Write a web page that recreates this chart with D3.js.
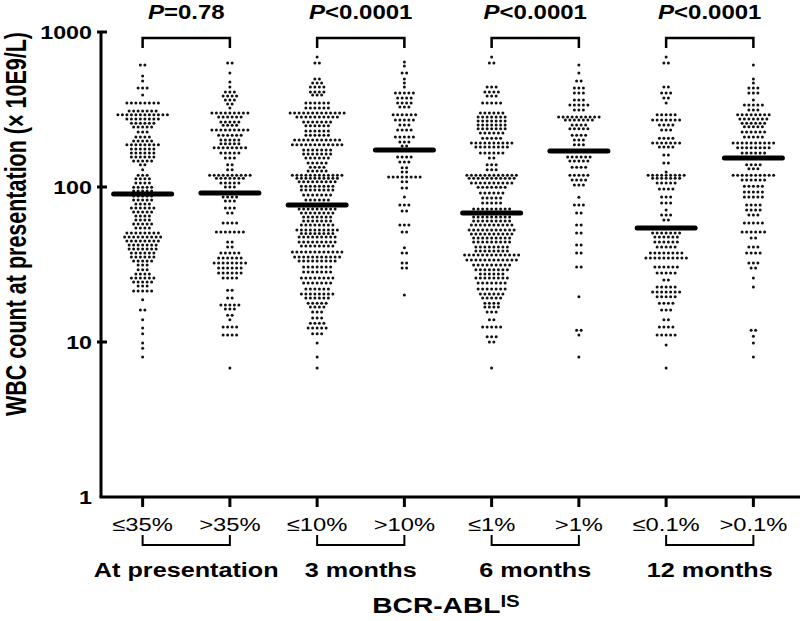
<!DOCTYPE html>
<html>
<head>
<meta charset="utf-8">
<script src="https://cdn.jsdelivr.net/npm/d3@7"></script>
<style>
  html, body { margin: 0; padding: 0; background: #fff; }
  svg { display: block; }
  text { font-family: "Liberation Sans", Arial, sans-serif; fill: #000; }
</style>
</head>
<body>
<div id="chart"></div>
<script>
// ---------------- DATA ----------------
const categories = ["≤35%", ">35%", "≤10%", ">10%", "≤1%", ">1%", "≤0.1%", ">0.1%"];
const timepoints = ["At presentation", "3 months", "6 months", "12 months"];
const pSign = ["=0.78", "<0.0001", "<0.0001", "<0.0001"];
const medians = [90, 91.5, 76.5, 173, 68, 171, 54.4, 154];
const yTickValues = [1, 10, 100, 1000];

// each entry: [WBC value (x10E9/L), number of patients in that row of the scatter]
const g1Rows = [[612,2],[520,1],[483,1],[435,3],[392,1],[348,8],[309,7],[292,12],[275,8],[258,6],[244,5],[226,3],[210,4],[198,5],[187,8],[176,6],[166,6],[156,6],[147,5],[139,2],[129,1],[119,3],[113,4],[106,4],[99.7,5],[94.3,5],[87.5,5],[82.4,5],[77.6,4],[73.1,6],[68.9,5],[65,4],[61.2,4],[57.7,5],[54.3,4],[50.5,8],[47.6,9],[44.8,8],[42.3,7],[39.8,7],[37.5,6],[35.3,6],[33.3,5],[31.4,3],[29.2,3],[27.5,4],[25.9,6],[24.4,5],[23.0,3],[21.3,5],[18.7,1],[16.1,2],[13.9,1],[12.3,1],[11.3,1],[9.85,1],[9.1,1],[8.0,1]];
const g2Rows = [[631,2],[544,1],[476,1],[442,1],[410,3],[387,4],[364,3],[343,2],[323,1],[300,9],[283,6],[263,5],[250,4],[233,9],[216,6],[201,5],[190,5],[179,8],[166,5],[154,3],[139,2],[129,2],[119,10],[114,7],[106,5],[100,3],[91.5,3],[86.2,4],[81.1,3],[73.2,3],[67.9,2],[58.6,4],[51.3,7],[44.2,2],[41.0,2],[37.5,5],[34.8,6],[32.3,8],[30.0,6],[27.9,6],[25.9,4],[21.6,2],[19.2,2],[17.3,5],[16.3,3],[14.9,2],[13.9,1],[12.5,4],[11.1,4],[6.8,1]];
const g3Rows = [[690,1],[631,2],[497,2],[469,3],[442,4],[410,4],[392,3],[348,6],[323,6],[300,13],[283,10],[263,7],[248,6],[230,6],[216,6],[201,11],[187,12],[173,7],[163,7],[154,6],[143,5],[134,4],[127,5],[119,12],[114,10],[108,9],[101,8],[95.7,8],[88.8,7],[82.4,6],[77,8],[72.1,9],[67.9,8],[64,7],[60.4,7],[56.9,8],[52.8,10],[50.2,8],[47.6,9],[44.2,9],[41.6,8],[38.1,12],[35.3,11],[33.3,9],[30.5,7],[28.3,7],[25.9,8],[24.0,7],[22.0,6],[20.4,8],[19.2,6],[17.8,5],[16.8,4],[15.6,3],[14.3,3],[13.2,4],[12.3,5],[11.3,3],[9.85,1],[8.0,1],[6.8,1]];
const g4Rows = [[640,1],[604,1],[544,2],[497,1],[469,1],[442,1],[404,5],[375,4],[348,4],[328,3],[292,6],[271,5],[251,3],[233,4],[210,5],[195,3],[184,2],[156,4],[145,3],[133,2],[125,2],[116,8],[108,2],[98.5,2],[86.2,1],[76.5,3],[70,2],[56.9,3],[51.3,2],[40.5,1],[37.5,2],[32.3,2],[30.0,2],[20.1,1]];
const g5Rows = [[690,1],[631,2],[442,3],[410,4],[387,3],[348,5],[300,6],[283,7],[267,7],[251,7],[238,7],[223,6],[206,5],[192,10],[181,8],[166,6],[154,2],[139,3],[129,3],[119,12],[114,11],[106,10],[99.7,7],[91.5,6],[84.9,5],[78.8,5],[72.1,9],[68,9],[64,9],[60.4,9],[56.9,10],[52.8,11],[49.7,10],[46.9,9],[44.2,9],[41.0,8],[38.6,8],[36.4,13],[33.8,12],[31.4,9],[29.2,8],[27.5,6],[25.9,8],[24.0,7],[22.0,7],[20.4,6],[19.2,5],[17.8,4],[16.8,4],[15.6,3],[13.9,2],[12.5,5],[10.8,3],[10.0,2],[6.8,1]];
const g6Rows = [[612,1],[544,1],[483,2],[435,3],[404,3],[364,3],[338,5],[314,3],[283,10],[271,7],[251,4],[238,5],[216,4],[201,3],[187,3],[171,2],[156,6],[147,5],[134,4],[119,5],[111,4],[103,3],[86,1],[76.5,3],[68,2],[56.9,2],[50.5,2],[42.3,2],[37.5,2],[30.5,2],[19.6,1],[11.9,2],[11.1,1],[8.0,1]];
const g7Rows = [[690,1],[631,2],[442,2],[404,3],[375,2],[348,1],[292,5],[271,7],[251,4],[233,3],[206,4],[192,7],[181,4],[161,2],[143,2],[125,1],[119,9],[114,7],[106,5],[97.2,4],[86.2,3],[78.8,3],[71,1],[65.9,3],[61.2,2],[54.4,6],[50.5,7],[47.6,6],[44.2,6],[41.0,5],[37.5,8],[34.8,10],[30.5,6],[27.9,5],[25.1,2],[22.6,5],[21.0,7],[19.6,5],[17.8,4],[16.1,3],[13.9,2],[12.5,4],[11.1,5],[9.57,1],[6.8,1]];
const g8Rows = [[612,1],[497,1],[469,1],[435,3],[404,3],[364,1],[338,5],[314,3],[292,8],[275,7],[258,6],[245,5],[226,6],[210,5],[192,10],[179,8],[166,6],[154,4],[139,4],[131,3],[119,10],[111,6],[101,5],[92.9,5],[86.2,5],[76.5,4],[71.1,4],[65.9,3],[58.6,5],[51.3,6],[46.9,2],[41.0,3],[37.5,4],[32.3,3],[30.0,2],[25.9,1],[22.6,1],[11.9,2],[10.9,1],[9.85,1],[8.0,1]];

const groupRows = [g1Rows, g2Rows, g3Rows, g4Rows, g5Rows, g6Rows, g7Rows, g8Rows];

// ---------------- LAYOUT ----------------
const W = 800, H = 621;
const axisX = 101, axisY = 497, topY = 32;

const svg = d3.select("#chart").append("svg").attr("width", W).attr("height", H);

const y = d3.scaleLog().domain([1, 1000]).range([axisY, topY]);
const x = d3.scalePoint().domain(categories).range([99, 797]).padding(0.5);

const dotGap = 4.5, dotR = 1.5;

// stretched text helper (the reference typography is horizontally widened)
function stext(px, py, sx, anchor) {
  return svg.append("g")
    .attr("transform", `translate(${px},${py}) scale(${sx},1)`)
    .append("text").attr("text-anchor", anchor);
}

// ---------------- DOTS ----------------
const dots = [];
groupRows.forEach((rows, gi) => {
  const cx = x(categories[gi]);
  rows.forEach(([v, n]) => {
    for (let i = 0; i < n; i++) {
      dots.push({ cx: cx + (i - (n - 1) / 2) * dotGap, v });
    }
  });
});
svg.append("g").selectAll("circle").data(dots).join("circle")
  .attr("cx", d => d.cx).attr("cy", d => y(d.v)).attr("r", dotR).attr("fill", "#111");

// ---------------- MEDIANS ----------------
svg.append("g").selectAll("line").data(medians).join("line")
  .attr("x1", (d, i) => x(categories[i]) - 29)
  .attr("x2", (d, i) => x(categories[i]) + 29)
  .attr("y1", d => y(d)).attr("y2", d => y(d))
  .attr("stroke", "#000").attr("stroke-width", 5).attr("stroke-linecap", "round");

// ---------------- AXES ----------------
const yAxis = d3.axisLeft(y).tickValues(yTickValues).tickSize(0).tickFormat("");
svg.append("g").attr("transform", `translate(${axisX},0)`).call(yAxis)
  .call(g => g.select(".domain").remove());

svg.append("line").attr("x1", axisX).attr("x2", axisX).attr("y1", topY - 1).attr("y2", axisY)
  .attr("stroke", "#000").attr("stroke-width", 3);
svg.append("line").attr("x1", axisX - 1.5).attr("x2", W).attr("y1", axisY).attr("y2", axisY)
  .attr("stroke", "#000").attr("stroke-width", 3);

// y ticks (cross the axis) and labels
svg.append("g").selectAll("line").data(yTickValues.filter(v => v > 1)).join("line")
  .attr("x1", axisX - 4).attr("x2", axisX + 6)
  .attr("y1", d => y(d)).attr("y2", d => y(d))
  .attr("stroke", "#000").attr("stroke-width", 3);
yTickValues.forEach(v => {
  stext(92, y(v) + 6.5, 1.33, "end").attr("font-size", 17.5).attr("font-weight", "bold").text(v);
});

// x ticks and labels
svg.append("g").selectAll("line").data(categories).join("line")
  .attr("x1", d => x(d)).attr("x2", d => x(d))
  .attr("y1", axisY).attr("y2", axisY + 10)
  .attr("stroke", "#000").attr("stroke-width", 3);
categories.forEach(c => {
  stext(x(c), 531, 1.25, "middle").attr("font-size", 19).text(c);
});

// ---------------- BRACKETS ----------------
timepoints.forEach((t, i) => {
  const xa = x(categories[2 * i]), xb = x(categories[2 * i + 1]);
  // bottom bracket
  svg.append("path")
    .attr("d", `M${xa},535 V545 H${xb} V535`)
    .attr("fill", "none").attr("stroke", "#000").attr("stroke-width", 2);
  stext((xa + xb) / 2, 577, 1.2, "middle")
    .attr("font-size", 21).attr("font-weight", "bold").text(t);
  // top bracket with P value
  svg.append("path")
    .attr("d", `M${xa},48 V38 H${xb} V48`)
    .attr("fill", "none").attr("stroke", "#000").attr("stroke-width", 2.5);
  const pt = stext((xa + xb) / 2, 19, 1.2, "middle").attr("font-size", 20).attr("font-weight", "bold");
  pt.append("tspan").attr("font-style", "italic").text("P");
  pt.append("tspan").text(pSign[i]);
});

// ---------------- TITLES ----------------
const xt = stext(446, 613, 1.28, "middle").attr("font-size", 22).attr("font-weight", "bold");
xt.append("tspan").text("BCR-ABL");
xt.append("tspan").attr("font-size", 16).attr("dy", -6).text("IS");

svg.append("g")
  .attr("transform", `translate(26,224) rotate(-90) scale(1,1.35)`)
  .append("text").attr("text-anchor", "middle")
  .attr("font-size", 21.5).attr("font-weight", "bold")
  .text("WBC count at presentation (× 10E9/L)");
</script>
</body>
</html>
